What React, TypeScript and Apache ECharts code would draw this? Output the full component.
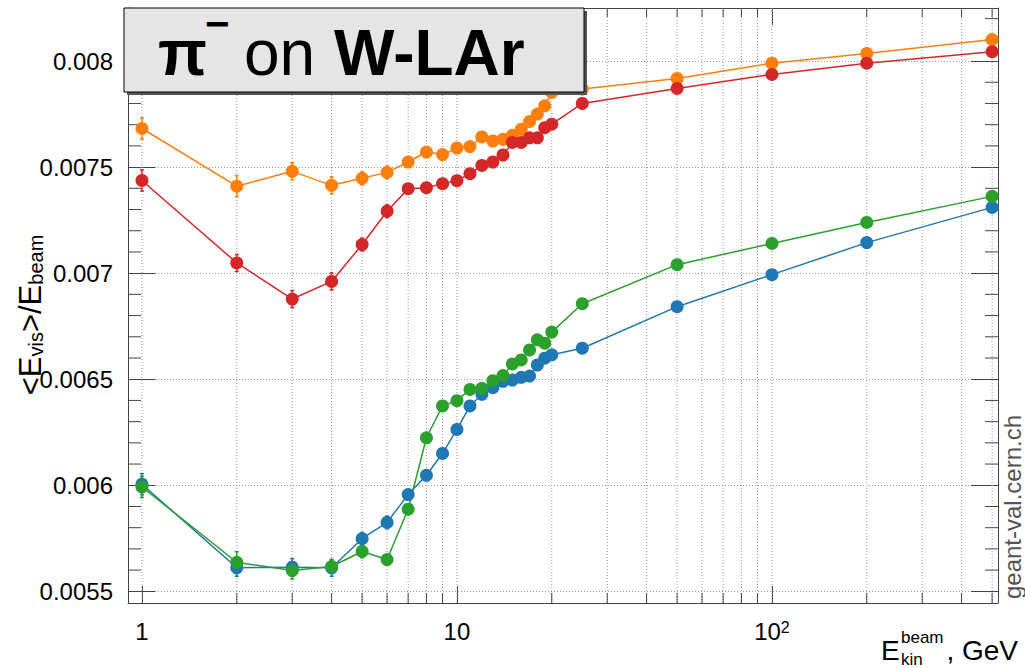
import React, { useEffect, useRef } from "react";
import * as echarts from "echarts";

// ---------- data ----------
const energies = [1, 2, 3, 4, 5, 6, 7, 8, 9, 10, 11, 12, 13, 14, 15, 16, 17, 18, 19, 20, 25, 50, 100, 200, 500];

const blueValues = [
  0.006005, 0.005611, 0.005614, 0.005611, 0.005748, 0.005825, 0.005956, 0.006047, 0.00615, 0.006263,
  0.006374, 0.006429, 0.00646, 0.00649, 0.006496, 0.006509, 0.006515, 0.006567, 0.006599, 0.006615,
  0.006646, 0.006842, 0.006993, 0.007144, 0.00731,
];
const orangeValues = [
  0.007682, 0.00741, 0.00748, 0.007414, 0.007447, 0.007475, 0.007524, 0.007571, 0.007559, 0.00759,
  0.007597, 0.007642, 0.007623, 0.007631, 0.00765, 0.007678, 0.007715, 0.00775, 0.007789, 0.007852,
  0.007868, 0.007918, 0.00799, 0.008036, 0.008101,
];
const greenValues = [
  0.005992, 0.005637, 0.005598, 0.005617, 0.005688, 0.00565, 0.005887, 0.006224, 0.006374, 0.006399,
  0.006452, 0.006457, 0.006493, 0.006517, 0.006572, 0.006591, 0.006638, 0.006686, 0.00667, 0.006722,
  0.006856, 0.00704, 0.00714, 0.007239, 0.007362,
];
const redValues = [
  0.007437, 0.007048, 0.006878, 0.006961, 0.007135, 0.007292, 0.007398, 0.007403, 0.007422, 0.007436,
  0.007469, 0.007508, 0.007524, 0.007557, 0.007616, 0.007616, 0.007638, 0.007638, 0.007686, 0.007702,
  0.0078, 0.007871, 0.007937, 0.00799, 0.008044,
];

const blueErrors = [
  0.00005, 0.00004, 0.00004, 0.00004, 0.00003, 0.00003, 0.00002, 0.00002, 0.00002, 0.00002,
  0.00002, 0.00002, 0.00002, 0.00002, 0.00002, 0.00002, 0.00002, 0.00002, 0.00002, 0.00002,
  0.00002, 0.00002, 0.00002, 0.00002, 0.00002,
];
const orangeErrors = [
  0.00005, 0.00005, 0.00004, 0.00004, 0.00003, 0.00003, 0.00002, 0.00002, 0.00002, 0.00002,
  0.00002, 0.00002, 0.00002, 0.00002, 0.00002, 0.00002, 0.00002, 0.00002, 0.00002, 0.00002,
  0.00002, 0.00002, 0.00002, 0.00002, 0.00002,
];
const greenErrors = [
  0.00005, 0.00005, 0.00004, 0.00003, 0.00003, 0.00002, 0.00002, 0.00002, 0.00002, 0.00002,
  0.00002, 0.00002, 0.00002, 0.00002, 0.00002, 0.00002, 0.00002, 0.00002, 0.00002, 0.00002,
  0.00002, 0.00002, 0.00002, 0.00002, 0.00002,
];
const redErrors = [
  0.00005, 0.00004, 0.00004, 0.00004, 0.00003, 0.00003, 0.00002, 0.00002, 0.00002, 0.00002,
  0.00002, 0.00002, 0.00002, 0.00002, 0.00002, 0.00002, 0.00002, 0.00002, 0.00002, 0.00002,
  0.00002, 0.00002, 0.00002, 0.00002, 0.00002,
];

const seriesNames = ["Model A", "Model B", "Model C", "Model D"];
const seriesColors = ["#1f77b4", "#ff7f0e", "#2ca02c", "#d62728"];
const seriesValues = [blueValues, orangeValues, greenValues, redValues];
const seriesErrors = [blueErrors, orangeErrors, greenErrors, redErrors];

// axis ranges and tick positions
const X_MIN = 0.903;
const X_MAX = 522;
const Y_MIN = 0.005445;
const Y_MAX = 0.00825;
const xGridValues = [1, 2, 3, 4, 5, 6, 7, 8, 9, 10, 20, 30, 40, 50, 60, 70, 80, 90, 100, 200, 300, 400, 500];
const xMinorTicks = [2, 3, 4, 5, 6, 7, 8, 9, 20, 30, 40, 50, 60, 70, 80, 90, 200, 300, 400, 500];
const yMinorTicks: number[] = [];
for (let k = 55; k <= 82; k++) if (k % 5 !== 0) yMinorTicks.push(k / 10000);

const FONT = "'Liberation Sans', Arial, Helvetica, sans-serif";
const FRAME = "#444";

export default function App() {
  const ref = useRef<HTMLDivElement>(null);

  useEffect(() => {
    if (!ref.current) return;
    const chart = echarts.init(ref.current, undefined, { renderer: "svg" });

    const decorations = {
      type: "custom",
      silent: true,
      z: 1,
      xAxisIndex: 0,
      yAxisIndex: 0,
      data: [[1, 0.006]],
      renderItem: (_params: any, api: any) => {
        const children: any[] = [];
        const yTop = api.coord([1, Y_MAX])[1];
        const yBot = api.coord([1, Y_MIN])[1];
        const xL = api.coord([X_MIN, Y_MIN])[0];
        const xR = api.coord([X_MAX, Y_MIN])[0];
        xGridValues.forEach((v) => {
          const px = api.coord([v, Y_MIN])[0];
          children.push({
            type: "line",
            shape: { x1: px, y1: yTop, x2: px, y2: yBot },
            style: { stroke: "#9a9a9a", lineWidth: 1, lineDash: [1, 2] },
          });
        });
        xMinorTicks.forEach((v) => {
          const px = api.coord([v, Y_MIN])[0];
          children.push({
            type: "line",
            shape: { x1: px, y1: yBot, x2: px, y2: yBot - 10 },
            style: { stroke: FRAME, lineWidth: 1 },
          });
          children.push({
            type: "line",
            shape: { x1: px, y1: yTop, x2: px, y2: yTop + 9 },
            style: { stroke: FRAME, lineWidth: 1 },
          });
        });
        yMinorTicks.forEach((v) => {
          const py = api.coord([1, v])[1];
          children.push({
            type: "line",
            shape: { x1: xL, y1: py, x2: xL + 13, y2: py },
            style: { stroke: FRAME, lineWidth: 1 },
          });
          children.push({
            type: "line",
            shape: { x1: xR, y1: py, x2: xR - 13, y2: py },
            style: { stroke: FRAME, lineWidth: 1 },
          });
        });
        return { type: "group", children };
      },
    };

    const errorSeries = seriesNames.map((name, si) => ({
      type: "custom",
      name: name + " errors",
      silent: true,
      z: 3,
      xAxisIndex: 0,
      yAxisIndex: 0,
      encode: { x: 0, y: 1 },
      data: energies.map((e, i) => [e, seriesValues[si][i], seriesErrors[si][i]]),
      renderItem: (_params: any, api: any) => {
        const x = api.value(0);
        const y = api.value(1);
        const err = api.value(2);
        const lo = api.coord([x, y - err]);
        const hi = api.coord([x, y + err]);
        const c = seriesColors[si];
        return {
          type: "group",
          children: [
            { type: "line", shape: { x1: lo[0], y1: lo[1], x2: hi[0], y2: hi[1] }, style: { stroke: c, lineWidth: 1.5 } },
            { type: "line", shape: { x1: lo[0] - 2, y1: lo[1], x2: lo[0] + 2, y2: lo[1] }, style: { stroke: c, lineWidth: 1.5 } },
            { type: "line", shape: { x1: hi[0] - 2, y1: hi[1], x2: hi[0] + 2, y2: hi[1] }, style: { stroke: c, lineWidth: 1.5 } },
          ],
        };
      },
    }));

    const lineSeries = seriesNames.map((name, si) => ({
      type: "line",
      name,
      z: 4,
      xAxisIndex: 0,
      yAxisIndex: 0,
      data: energies.map((e, i) => [e, seriesValues[si][i]]),
      symbol: "circle",
      symbolSize: 13,
      showSymbol: true,
      color: seriesColors[si],
      lineStyle: { width: 1.5, color: seriesColors[si] },
      itemStyle: { color: seriesColors[si] },
      emphasis: { disabled: true },
    }));

    const option: any = {
      animation: false,
      backgroundColor: "#ffffff",
      grid: { left: 128, top: 8, width: 870, height: 595, containLabel: false, outerBoundsMode: "none" },
      xAxis: [
        {
          type: "log",
          logBase: 10,
          min: X_MIN,
          max: X_MAX,
          position: "bottom",
          axisLine: { show: true, lineStyle: { color: FRAME, width: 1 } },
          axisTick: { show: true, inside: true, length: 17, lineStyle: { color: FRAME, width: 1 } },
          splitLine: { show: false },
          minorTick: { show: false },
          axisLabel: {
            show: true,
            showMinLabel: false,
            showMaxLabel: false,
            margin: 16,
            color: "#000",
            fontSize: 24,
            fontFamily: FONT,
            formatter: (v: number) => {
              const r = Math.round(v);
              if (r === 100) return "10{sup|2}";
              return String(r);
            },
            rich: {
              sup: { fontSize: 16, fontFamily: FONT, color: "#000", verticalAlign: "top", lineHeight: 14 },
            },
          },
        },
        {
          type: "log",
          logBase: 10,
          min: X_MIN,
          max: X_MAX,
          position: "top",
          axisLine: { show: true, lineStyle: { color: FRAME, width: 1 } },
          axisTick: { show: true, inside: true, length: 17, lineStyle: { color: FRAME, width: 1 } },
          splitLine: { show: false },
          axisLabel: { show: false },
        },
      ],
      yAxis: [
        {
          type: "value",
          min: Y_MIN,
          max: Y_MAX,
          minInterval: 0.0005,
          maxInterval: 0.0005,
          splitNumber: 5,
          position: "left",
          axisLine: { show: true, lineStyle: { color: FRAME, width: 1 } },
          axisTick: { show: true, inside: true, length: 27, lineStyle: { color: FRAME, width: 1 } },
          splitLine: { show: true, lineStyle: { color: "#9a9a9a", width: 1, type: [1, 2] } },
          axisLabel: {
            show: true,
            showMinLabel: false,
            showMaxLabel: false,
            margin: 15,
            color: "#000",
            fontSize: 24,
            fontFamily: FONT,
            formatter: (v: number) => String(parseFloat(v.toFixed(5))),
          },
        },
        {
          type: "value",
          min: Y_MIN,
          max: Y_MAX,
          minInterval: 0.0005,
          maxInterval: 0.0005,
          splitNumber: 5,
          position: "right",
          axisLine: { show: true, lineStyle: { color: FRAME, width: 1 } },
          axisTick: { show: true, inside: true, length: 27, lineStyle: { color: FRAME, width: 1 } },
          splitLine: { show: false },
          axisLabel: { show: false },
        },
      ],
      graphic: [
        // title box with shadow
        { type: "rect", z: 100, shape: { x: 127, y: 11, width: 460, height: 84 }, style: { fill: "#555" }, silent: true },
        { type: "rect", z: 101, shape: { x: 124, y: 8, width: 460, height: 84 }, style: { fill: "#e5e5e5", stroke: "#000", lineWidth: 1 }, silent: true },
        {
          type: "text", z: 102, x: 158, y: 53,
          style: { text: "π", font: `bold 64px ${FONT}`, fill: "#000", align: "left", verticalAlign: "middle" },
        },
        {
          type: "text", z: 102, x: 205, y: 23,
          style: { text: "−", font: `bold 42px ${FONT}`, fill: "#000", align: "left", verticalAlign: "middle" },
        },
        {
          type: "text", z: 102, x: 244, y: 53,
          style: { text: "on", font: `64px ${FONT}`, fill: "#000", align: "left", verticalAlign: "middle" },
        },
        {
          type: "text", z: 102, x: 334, y: 53,
          style: { text: "W-LAr", font: `bold 64px ${FONT}`, fill: "#000", align: "left", verticalAlign: "middle" },
        },
        // y-axis title
        {
          type: "text", z: 50, x: 30, y: 315, rotation: Math.PI / 2,
          style: {
            text: "{m|<E}{s|vis}{m|>/E}{s|beam}",
            align: "center",
            verticalAlign: "middle",
            fill: "#000",
            rich: {
              m: { fontSize: 31, fontFamily: FONT, color: "#000", lineHeight: 32 },
              s: { fontSize: 20, fontFamily: FONT, color: "#000", lineHeight: 12, verticalAlign: "bottom" },
            },
          },
        },
        // x-axis title
        {
          type: "text", z: 50, x: 881, y: 650,
          style: { text: "E", font: `28px ${FONT}`, fill: "#000", align: "left", verticalAlign: "middle" },
        },
        {
          type: "text", z: 50, x: 901, y: 637,
          style: { text: "beam", font: `17px ${FONT}`, fill: "#000", align: "left", verticalAlign: "middle" },
        },
        {
          type: "text", z: 50, x: 901, y: 659,
          style: { text: "kin", font: `17px ${FONT}`, fill: "#000", align: "left", verticalAlign: "middle" },
        },
        {
          type: "text", z: 50, x: 1018, y: 650,
          style: { text: ", GeV", font: `28px ${FONT}`, fill: "#000", align: "right", verticalAlign: "middle" },
        },
        // watermark
        {
          type: "text", z: 50, x: 1012, y: 507, rotation: Math.PI / 2,
          style: { text: "geant-val.cern.ch", font: `24px ${FONT}`, fill: "#555", align: "center", verticalAlign: "middle" },
        },
      ],
      series: [decorations, ...errorSeries, ...lineSeries],
    };

    chart.setOption(option);
    return () => chart.dispose();
  }, []);

  return (
    <div
      ref={ref}
      style={{ position: "fixed", left: 0, top: 0, width: 1025, height: 668, background: "#fff" }}
    />
  );
}
